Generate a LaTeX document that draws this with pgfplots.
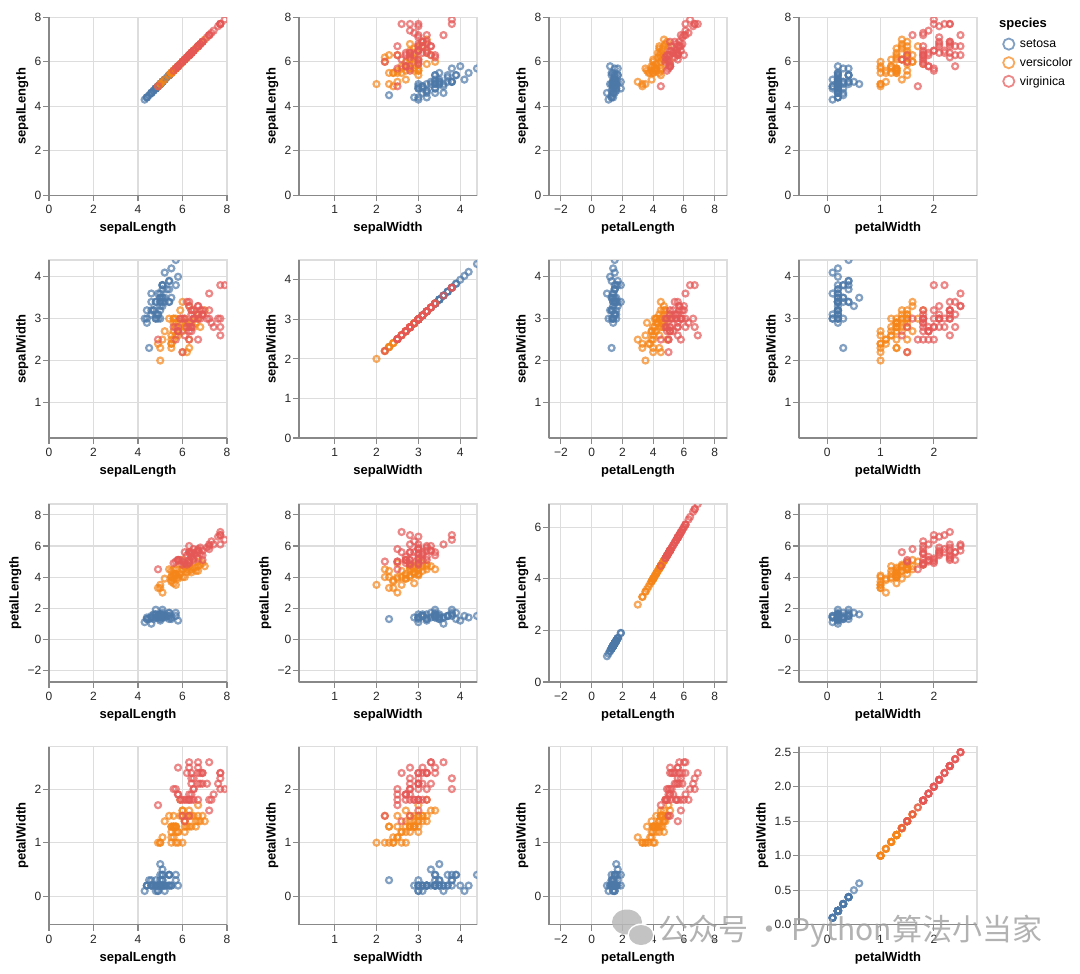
\documentclass[border=0pt]{standalone}
\usepackage{fontspec}
\setmainfont{Liberation Sans}
\newfontfamily\cjk{Noto Sans CJK SC}
\usepackage{pgfplots}
\usepackage{pgfplotstable}
\pgfplotsset{compat=1.18}

\definecolor{cset}{HTML}{4C78A8}
\definecolor{cver}{HTML}{F58518}
\definecolor{cvir}{HTML}{E45756}
\definecolor{gridc}{HTML}{DDDDDD}
\definecolor{axc}{HTML}{888888}

\pgfplotstableread{
sl sw pl pw
5.1 3.5 1.4 0.2
4.9 3.0 1.4 0.2
4.7 3.2 1.3 0.2
4.6 3.1 1.5 0.2
5.0 3.6 1.4 0.2
5.4 3.9 1.7 0.4
4.6 3.4 1.4 0.3
5.0 3.4 1.5 0.2
4.4 2.9 1.4 0.2
4.9 3.1 1.5 0.1
5.4 3.7 1.5 0.2
4.8 3.4 1.6 0.2
4.8 3.0 1.4 0.1
4.3 3.0 1.1 0.1
5.8 4.0 1.2 0.2
5.7 4.4 1.5 0.4
5.4 3.9 1.3 0.4
5.1 3.5 1.4 0.3
5.7 3.8 1.7 0.3
5.1 3.8 1.5 0.3
5.4 3.4 1.7 0.2
5.1 3.7 1.5 0.4
4.6 3.6 1.0 0.2
5.1 3.3 1.7 0.5
4.8 3.4 1.9 0.2
5.0 3.0 1.6 0.2
5.0 3.4 1.6 0.4
5.2 3.5 1.5 0.2
5.2 3.4 1.4 0.2
4.7 3.2 1.6 0.2
4.8 3.1 1.6 0.2
5.4 3.4 1.5 0.4
5.2 4.1 1.5 0.1
5.5 4.2 1.4 0.2
4.9 3.1 1.5 0.2
5.0 3.2 1.2 0.2
5.5 3.5 1.3 0.2
4.9 3.6 1.4 0.1
4.4 3.0 1.3 0.2
5.1 3.4 1.5 0.2
5.0 3.5 1.3 0.3
4.5 2.3 1.3 0.3
4.4 3.2 1.3 0.2
5.0 3.5 1.6 0.6
5.1 3.8 1.9 0.4
4.8 3.0 1.4 0.3
5.1 3.8 1.6 0.2
4.6 3.2 1.4 0.2
5.3 3.7 1.5 0.2
5.0 3.3 1.4 0.2
}\setosa

\pgfplotstableread{
sl sw pl pw
7.0 3.2 4.7 1.4
6.4 3.2 4.5 1.5
6.9 3.1 4.9 1.5
5.5 2.3 4.0 1.3
6.5 2.8 4.6 1.5
5.7 2.8 4.5 1.3
6.3 3.3 4.7 1.6
4.9 2.4 3.3 1.0
6.6 2.9 4.6 1.3
5.2 2.7 3.9 1.4
5.0 2.0 3.5 1.0
5.9 3.0 4.2 1.5
6.0 2.2 4.0 1.0
6.1 2.9 4.7 1.4
5.6 2.9 3.6 1.3
6.7 3.1 4.4 1.4
5.6 3.0 4.5 1.5
5.8 2.7 4.1 1.0
6.2 2.2 4.5 1.5
5.6 2.5 3.9 1.1
5.9 3.2 4.8 1.8
6.1 2.8 4.0 1.3
6.3 2.5 4.9 1.5
6.1 2.8 4.7 1.2
6.4 2.9 4.3 1.3
6.6 3.0 4.4 1.4
6.8 2.8 4.8 1.4
6.7 3.0 5.0 1.7
6.0 2.9 4.5 1.5
5.7 2.6 3.5 1.0
5.5 2.4 3.8 1.1
5.5 2.4 3.7 1.0
5.8 2.7 3.9 1.2
6.0 2.7 5.1 1.6
5.4 3.0 4.5 1.5
6.0 3.4 4.5 1.6
6.7 3.1 4.7 1.5
6.3 2.3 4.4 1.3
5.6 3.0 4.1 1.3
5.5 2.5 4.0 1.3
5.5 2.6 4.4 1.2
6.1 3.0 4.6 1.4
5.8 2.6 4.0 1.2
5.0 2.3 3.3 1.0
5.6 2.7 4.2 1.3
5.7 3.0 4.2 1.2
5.7 2.9 4.2 1.3
6.2 2.9 4.3 1.3
5.1 2.5 3.0 1.1
5.7 2.8 4.1 1.3
}\versicolor

\pgfplotstableread{
sl sw pl pw
6.3 3.3 6.0 2.5
5.8 2.7 5.1 1.9
7.1 3.0 5.9 2.1
6.3 2.9 5.6 1.8
6.5 3.0 5.8 2.2
7.6 3.0 6.6 2.1
4.9 2.5 4.5 1.7
7.3 2.9 6.3 1.8
6.7 2.5 5.8 1.8
7.2 3.6 6.1 2.5
6.5 3.2 5.1 2.0
6.4 2.7 5.3 1.9
6.8 3.0 5.5 2.1
5.7 2.5 5.0 2.0
5.8 2.8 5.1 2.4
6.4 3.2 5.3 2.3
6.5 3.0 5.5 1.8
7.7 3.8 6.7 2.2
7.7 2.6 6.9 2.3
6.0 2.2 5.0 1.5
6.9 3.2 5.7 2.3
5.6 2.8 4.9 2.0
7.7 2.8 6.7 2.0
6.3 2.7 4.9 1.8
6.7 3.3 5.7 2.1
7.2 3.2 6.0 1.8
6.2 2.8 4.8 1.8
6.1 3.0 4.9 1.8
6.4 2.8 5.6 2.1
7.2 3.0 5.8 1.6
7.4 2.8 6.1 1.9
7.9 3.8 6.4 2.0
6.4 2.8 5.6 2.2
6.3 2.8 5.1 1.5
6.1 2.6 5.6 1.4
7.7 3.0 6.1 2.3
6.3 3.4 5.6 2.4
6.4 3.1 5.5 1.8
6.0 3.0 4.8 1.8
6.9 3.1 5.4 2.1
6.7 3.1 5.6 2.4
6.9 3.1 5.1 2.3
5.8 2.7 5.1 1.9
6.8 3.2 5.9 2.3
6.7 3.3 5.7 2.5
6.7 3.0 5.2 2.3
6.3 2.5 5.0 1.9
6.5 3.0 5.2 2.0
6.2 3.4 5.4 2.3
5.9 3.0 5.1 1.8
}\virginica

\pgfplotsset{
  panel/.style={
    scale only axis, width=178pt, height=178pt, anchor=north west,
    axis x line*=bottom, axis y line*=left,
    axis line style={axc, line width=1.1pt},
    axis background/.style={draw=gridc, line width=1.1pt},
    grid=major, grid style={gridc, line width=1.1pt},
    tick align=outside, major tick length=6pt,
    tick style={axc, line width=1.1pt},
    ticklabel style={font=\fontsize{12}{12}\selectfont, inner sep=1pt, text=black!85},
    xticklabel shift=3pt, yticklabel shift=0.5pt,
    /pgf/number format/assume math mode=true,
    label style={font=\fontsize{13}{14}\selectfont\bfseries, inner sep=1pt},
    xlabel shift=6pt, ylabel shift=4pt,
    clip marker paths=true,
    every axis plot/.append style={only marks, mark=o, mark size=3.0pt,
      mark options={line width=2.2pt, opacity=0.7}},
  },
  xSL/.style={xmin=0, xmax=8, xtick={0,2,4,6,8}, xlabel={sepalLength}},
  xSW/.style={xmin=0.15, xmax=4.4, xtick={1,2,3,4}, xlabel={sepalWidth}},
  xPL/.style={xmin=-2.77, xmax=8.8, xtick={-2,0,2,4,6,8},
    xticklabels={−2,0,2,4,6,8}, xlabel={petalLength}},
  xPW/.style={xmin=-0.53, xmax=2.81, xtick={0,1,2}, xlabel={petalWidth}},
  ySL/.style={ymin=0, ymax=8, ytick={0,2,4,6,8}, ylabel={sepalLength}},
  ySW/.style={ymin=0.15, ymax=4.4, ytick={1,2,3,4}, ylabel={sepalWidth}},
  ySWd/.style={ymin=0, ymax=4.5, ytick={0,1,2,3,4}, ylabel={sepalWidth}},
  yPL/.style={ymin=-2.75, ymax=8.7, ytick={-2,0,2,4,6,8},
    yticklabels={−2,0,2,4,6,8}, ylabel={petalLength}},
  yPLd/.style={ymin=0, ymax=6.9, ytick={0,2,4,6}, ylabel={petalLength}},
  yPW/.style={ymin=-0.53, ymax=2.79, ytick={0,1,2}, ylabel={petalWidth}},
  yPWd/.style={ymin=0, ymax=2.58, ytick={0,0.5,1,1.5,2,2.5},
    yticklabels={0.0,0.5,1.0,1.5,2.0,2.5}, ylabel={petalWidth}},
  leg/.style={
    legend entries={setosa,versicolor,virginica},
    legend image code/.code={\draw[##1, line width=1.8pt, opacity=0.7] (0pt,0pt) circle (5.6pt);},
    legend cell align=left,
    legend style={draw=none, fill=none, inner sep=0pt, anchor=north west,
      at={(axis description cs:1.141,0.887)},
      font=\fontsize{12.3}{13}\selectfont, row sep=5.6pt,
      nodes={inner sep=1pt},
      /tikz/every odd column/.style={column sep=3.6pt}},
  },
}

\newcommand{\panel}[7]{%
  \begin{axis}[panel, at={(#1pt,-#2pt)}, #5, #6, #7]
    \addplot[cset] table[x=#3, y=#4]{\setosa};
    \addplot[cver] table[x=#3, y=#4]{\versicolor};
    \addplot[cvir] table[x=#3, y=#4]{\virginica};
  \end{axis}}

\begin{document}
\begin{tikzpicture}
\useasboundingbox (0pt,0pt) rectangle (1080pt,-974pt);
% row 1
\panel{49}{17.3}{sl}{sl}{xSL}{ySL}{}
\panel{299}{17.3}{sw}{sl}{xSW}{ySL}{}
\panel{549}{17.3}{pl}{sl}{xPL}{ySL}{}
\panel{799}{17.3}{pw}{sl}{xPW}{ySL}{leg}
% row 2
\panel{49}{260}{sl}{sw}{xSL}{ySW}{}
\panel{299}{260}{sw}{sw}{xSW}{ySWd}{}
\panel{549}{260}{pl}{sw}{xPL}{ySW}{}
\panel{799}{260}{pw}{sw}{xPW}{ySW}{}
% row 3
\panel{49}{504}{sl}{pl}{xSL}{yPL}{}
\panel{299}{504}{sw}{pl}{xSW}{yPL}{}
\panel{549}{504}{pl}{pl}{xPL}{yPLd}{}
\panel{799}{504}{pw}{pl}{xPW}{yPL}{}
% row 4
\panel{49}{746.7}{sl}{pw}{xSL}{yPW}{}
\panel{299}{746.7}{sw}{pw}{xSW}{yPW}{}
\panel{549}{746.7}{pl}{pw}{xPL}{yPW}{}
\panel{799}{746.7}{pw}{pw}{xPW}{yPWd}{}

\node[anchor=west, inner sep=0pt, font=\fontsize{13}{14}\selectfont\bfseries] at (999pt,-24pt) {species};

% watermark
\fill[gray!55, opacity=0.85] (627pt,-922pt) ellipse (15pt and 12.5pt);
\fill[white] (641pt,-935pt) ellipse (13.5pt and 11.5pt);
\fill[gray!55, opacity=0.85] (641pt,-935pt) ellipse (12pt and 10pt);
\node[anchor=west, inner sep=0pt, text=gray!75, opacity=0.8,
  font=\cjk\fontsize{30}{30}\selectfont] at (658pt,-931pt) {公众号 · Python算法小当家};
\end{tikzpicture}
\end{document}
